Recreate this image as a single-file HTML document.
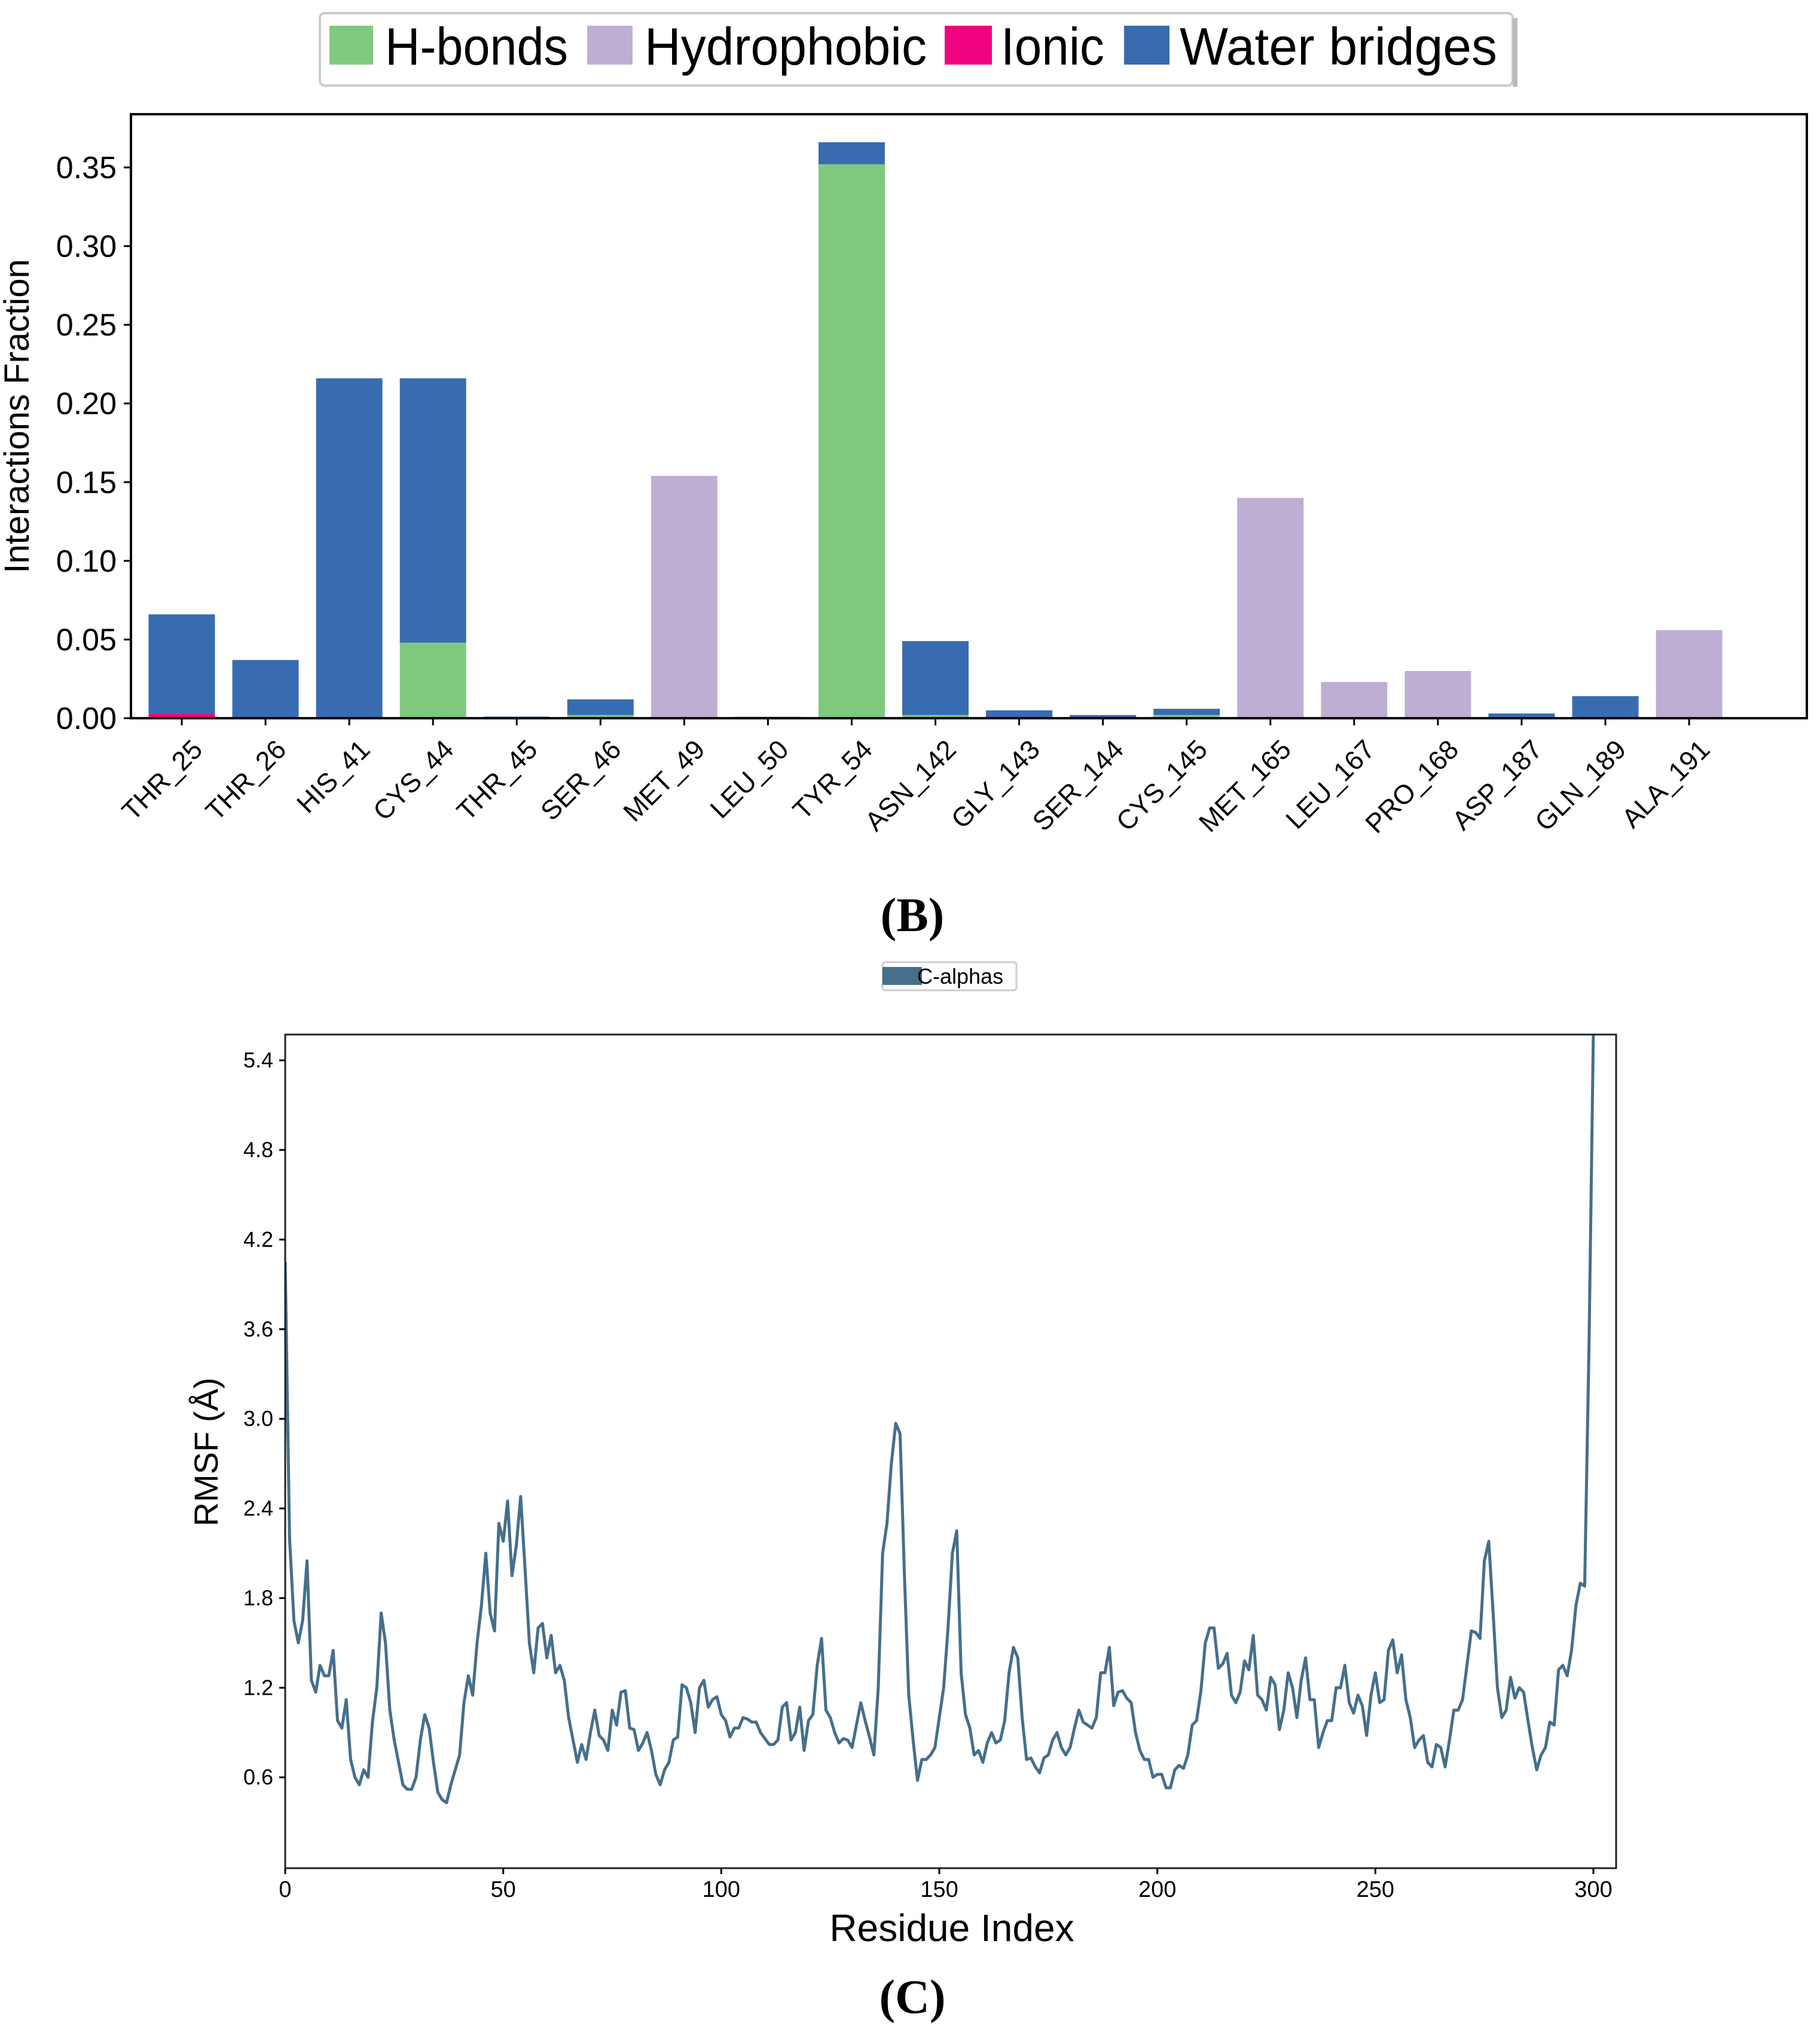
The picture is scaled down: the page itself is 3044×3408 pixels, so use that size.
<!DOCTYPE html>
<html><head><meta charset="utf-8"><style>
html,body{margin:0;padding:0;background:#fff;}
svg{display:block;}
text{font-family:"Liberation Sans",sans-serif;}
.n{font-family:"Liberation Sans Narrow","Liberation Sans",sans-serif;}
.s{font-family:"Liberation Serif",serif;}
</style></head><body>
<svg id="svg" width="3044" height="3408" viewBox="0 0 3044 3408" xmlns="http://www.w3.org/2000/svg">
<g id="legendB">
<rect x="535" y="22" width="1995" height="121" rx="8" fill="#fff" stroke="#ccc" stroke-width="4"/>
<rect x="2530" y="30" width="8" height="115" fill="#bbb"/>
<rect x="551" y="43" width="73" height="65" fill="#7fc97f"/>
<text class="n" x="644" y="108" font-size="88" textLength="306" lengthAdjust="spacingAndGlyphs">H-bonds</text>
<rect x="982" y="43" width="76" height="65" fill="#beaed4"/>
<text class="n" x="1078" y="108" font-size="88" textLength="472" lengthAdjust="spacingAndGlyphs">Hydrophobic</text>
<rect x="1580" y="43" width="79" height="65" fill="#f0027f"/>
<text class="n" x="1674" y="108" font-size="88" textLength="173" lengthAdjust="spacingAndGlyphs">Ionic</text>
<rect x="1880" y="43" width="76" height="65" fill="#386cb0"/>
<text class="n" x="1973" y="108" font-size="88" textLength="531" lengthAdjust="spacingAndGlyphs">Water bridges</text>
</g>
<g id="chartB"></g>
<text class="s" x="1526" y="1557" font-size="80" font-weight="bold" text-anchor="middle">(B)</text>
<g>
<rect x="1476" y="1609" width="224" height="47" rx="5" fill="#fff" stroke="#ccc" stroke-width="3"/>
<rect x="1476" y="1617" width="66" height="30" fill="#456f8c"/>
<text class="n" x="1534" y="1645" font-size="36">C-alphas</text>
</g>
<g id="chartC"></g>
<text class="s" x="1526" y="3366" font-size="80" font-weight="bold" text-anchor="middle">(C)</text>
</svg>
<script>
const residues=["THR_25","THR_26","HIS_41","CYS_44","THR_45","SER_46","MET_49","LEU_50","TYR_54","ASN_142","GLY_143","SER_144","CYS_145","MET_165","LEU_167","PRO_168","ASP_187","GLN_189","ALA_191"];
const hbonds=[0,0,0,0.048,0,0.002,0,0,0.352,0.002,0,0,0.002,0,0,0,0,0,0];
const hydrophobic=[0,0,0,0,0,0,0.154,0.001,0,0,0,0,0,0.140,0.023,0.030,0,0,0.056];
const ionic=[0.003,0,0,0,0,0,0,0,0,0,0,0,0,0,0,0,0,0,0];
const water=[0.063,0.037,0.216,0.168,0.001,0.010,0,0,0.014,0.047,0.005,0.002,0.004,0,0,0,0.003,0.014,0];
const yTicksB=[0,0.05,0.10,0.15,0.20,0.25,0.30,0.35];

const rmsf=[4.05,2.2,1.65,1.5,1.65,2.05,1.25,1.17,1.35,1.28,1.28,1.45,0.98,0.93,1.12,0.72,0.6,0.55,0.65,0.6,
0.97,1.2,1.7,1.5,1.05,0.85,0.7,0.55,0.52,0.52,0.6,0.85,1.02,0.93,0.7,0.5,0.45,0.43,0.55,0.65,
0.75,1.1,1.28,1.15,1.5,1.75,2.1,1.7,1.58,2.3,2.18,2.45,1.95,2.15,2.48,2.0,1.5,1.3,1.6,1.63,
1.4,1.55,1.3,1.35,1.25,1.0,0.85,0.7,0.82,0.72,0.9,1.05,0.88,0.85,0.78,1.05,0.95,1.17,1.18,0.93,
0.92,0.78,0.83,0.9,0.78,0.62,0.55,0.65,0.7,0.85,0.87,1.22,1.2,1.1,0.9,1.2,1.25,1.07,1.12,1.14,
1.02,0.98,0.87,0.93,0.93,1.0,0.99,0.97,0.97,0.9,0.86,0.82,0.82,0.85,1.07,1.1,0.85,0.9,1.07,0.78,
0.98,1.02,1.35,1.53,1.05,1.0,0.9,0.83,0.86,0.85,0.8,0.95,1.1,0.98,0.87,0.75,1.2,2.1,2.3,2.7,
2.97,2.9,1.95,1.15,0.85,0.58,0.72,0.72,0.75,0.8,1.0,1.2,1.6,2.1,2.25,1.3,1.02,0.93,0.75,0.78,
0.7,0.83,0.9,0.83,0.85,0.98,1.3,1.47,1.4,1.0,0.72,0.73,0.67,0.63,0.73,0.75,0.85,0.9,0.8,0.75,
0.8,0.93,1.05,0.97,0.95,0.93,1.0,1.3,1.3,1.47,1.08,1.17,1.18,1.13,1.1,0.9,0.78,0.72,0.72,0.6,
0.62,0.62,0.53,0.53,0.65,0.68,0.66,0.75,0.95,0.98,1.18,1.5,1.6,1.6,1.33,1.36,1.43,1.15,1.1,1.17,
1.38,1.32,1.55,1.15,1.12,1.05,1.27,1.22,0.92,1.05,1.3,1.2,1.0,1.25,1.4,1.12,1.12,0.8,0.9,0.98,
0.98,1.2,1.2,1.35,1.1,1.03,1.15,1.08,0.88,1.15,1.3,1.1,1.12,1.45,1.52,1.3,1.42,1.12,1.0,0.8,
0.85,0.88,0.7,0.67,0.82,0.8,0.67,0.85,1.05,1.05,1.12,1.35,1.58,1.57,1.53,2.05,2.18,1.7,1.2,1.0,
1.05,1.27,1.13,1.2,1.17,0.98,0.8,0.65,0.75,0.8,0.97,0.95,1.32,1.35,1.28,1.45,1.75,1.9,1.88,3.5,
5.6,6.5];
const yTicksC=[0.6,1.2,1.8,2.4,3.0,3.6,4.2,4.8,5.4];
const xTicksC=[0,50,100,150,200,250,300];

const NS="http://www.w3.org/2000/svg";
function mk(parent,tag,attrs){const e=document.createElementNS(NS,tag);for(const k in attrs)e.setAttribute(k,attrs[k]);parent.appendChild(e);return e;}

// ---- Chart B ----
const gB=document.getElementById('chartB');
const bL=219,bR=3022,bT=191,bB=1201;
const yB=v=>bB-v*(1201-280)/0.35;
const xB=i=>304+i*140.06;
const bw=111;
const series=[[hbonds,'#7fc97f','hbonds'],[hydrophobic,'#beaed4','hydrophobic'],[ionic,'#f0027f','ionic'],[water,'#386cb0','water-bridges']];
residues.forEach((r,i)=>{
  let base=0;
  series.forEach(([arr,col,nm])=>{
    const v=arr[i];
    if(v>0){
      const rc=mk(gB,'rect',{x:xB(i)-bw/2,y:yB(base+v),width:bw,height:yB(base)-yB(base+v),fill:col});
      
      
      base+=v;
    }
  });
  mk(gB,'line',{x1:xB(i),x2:xB(i),y1:bB,y2:bB+12,stroke:'#000','stroke-width':3});
  const lx=xB(i)+14,ly=bB+32;
  const lb=mk(gB,'text',{x:lx,y:ly,'font-size':45,'text-anchor':'end','dominant-baseline':'hanging',transform:'rotate(-45 '+lx+' '+ly+')'});
  lb.textContent=r;
  
  
});
mk(gB,'rect',{x:bL,y:bT,width:bR-bL,height:bB-bT,fill:'none',stroke:'#000','stroke-width':4});
yTicksB.forEach(v=>{
  mk(gB,'line',{x1:bL-12,x2:bL,y1:yB(v),y2:yB(v),stroke:'#000','stroke-width':3});
  const t=mk(gB,'text',{x:bL-24,y:yB(v)+18,'font-size':52,'text-anchor':'end'});
  t.textContent=v.toFixed(2);
  
  
});
const ylB=mk(gB,'text',{x:48,y:696,'font-size':58,'text-anchor':'middle',transform:'rotate(-90 48 696)'});
ylB.textContent='Interactions Fraction';



// ---- Chart C ----
const gC=document.getElementById('chartC');
const cL=477,cR=2703,cT=1730,cB=3124;
const xC=r=>477+r*(2665-477)/300;
const yC=v=>3122-v*(2972-1773)/4.8;
const clip=mk(gC,'clipPath',{id:'clipC'});
mk(clip,'rect',{x:cL,y:cT,width:cR-cL,height:cB-cT});
const pts=rmsf.map((v,i)=>xC(i).toFixed(1)+','+yC(v).toFixed(1)).join(' ');
const pl=mk(gC,'polyline',{points:pts,fill:'none',stroke:'#456f8c','stroke-width':5,'stroke-linejoin':'round','clip-path':'url(#clipC)'});


mk(gC,'rect',{x:cL,y:cT,width:cR-cL,height:cB-cT,fill:'none',stroke:'#222','stroke-width':3});
yTicksC.forEach(v=>{
  mk(gC,'line',{x1:cL-10,x2:cL,y1:yC(v),y2:yC(v),stroke:'#000','stroke-width':3});
  const t=mk(gC,'text',{x:cL-20,y:yC(v)+12,'font-size':36,'text-anchor':'end','class':'n'});
  t.textContent=v.toFixed(1);
  
  
});
xTicksC.forEach(v=>{
  mk(gC,'line',{x1:xC(v),x2:xC(v),y1:cB,y2:cB+10,stroke:'#000','stroke-width':3});
  const t=mk(gC,'text',{x:xC(v),y:cB+48,'font-size':38,'text-anchor':'middle','class':'n'});
  t.textContent=v;
  
  
});
const xlC=mk(gC,'text',{x:1592,y:3246,'font-size':64,'text-anchor':'middle'});
xlC.textContent='Residue Index';


const ylC=mk(gC,'text',{x:364,y:2428,'font-size':56,'text-anchor':'middle',transform:'rotate(-90 364 2428)'});
ylC.textContent='RMSF (Å)';


</script>
</body></html>
